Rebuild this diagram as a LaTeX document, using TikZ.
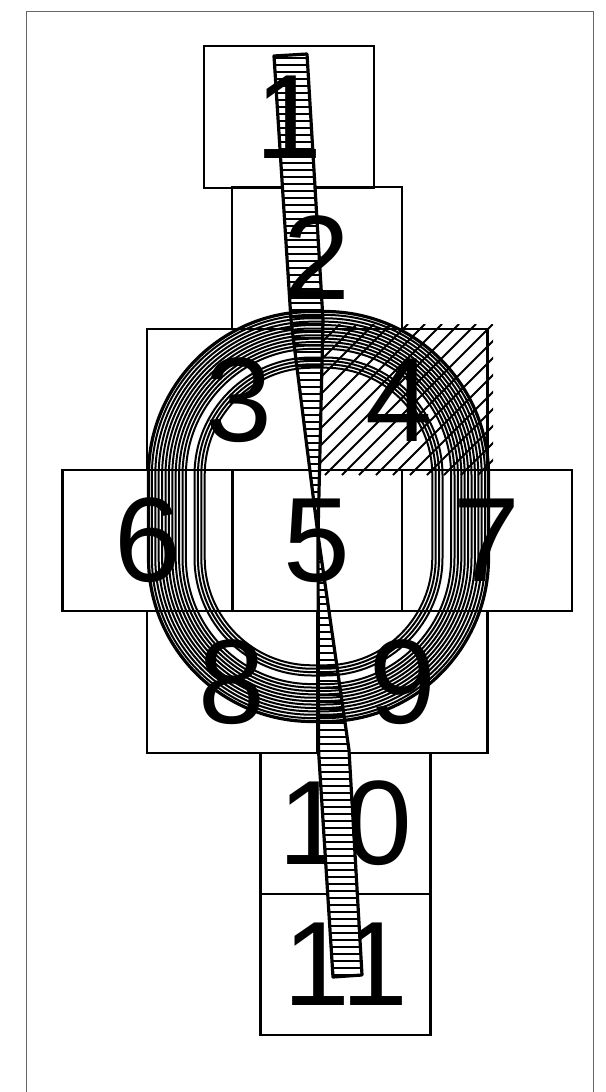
\documentclass[tikz,border=0pt]{standalone}
\usepackage{fontspec}
\setmainfont{Liberation Sans}
\begin{document}
\begin{tikzpicture}[x=1pt,y=-1pt,
  box/.style={draw=black,line width=2.3pt,minimum width=170pt,minimum height=141.5pt,inner sep=0pt,outer sep=0pt},
  digit/.style={inner sep=0pt,outer sep=0pt,anchor=center,font=\fontsize{120}{120}\selectfont},
  frameline/.style={draw=black!60,line width=1pt},
  hatchline/.style={line width=2pt},
  rung/.style={line width=1.8pt},
  ringline/.style={line width=2pt},
  ladderedge/.style={line width=3.2pt,line join=round}]
\useasboundingbox (0,0) rectangle (605,1092);
% frame
\coordinate (fbl) at (26,1092);
\coordinate (ftl) at (26,11);
\coordinate (ftr) at (593,11);
\coordinate (fbr) at (593,1092);
\draw[frameline] (fbl) -- (ftl) -- (ftr) -- (fbr);
% hatching of box 4
\begin{scope}
\clip (313,324) rectangle (493,475);
\foreach \c in {630,647,...,990}{
  \draw[hatchline] ({\c-475},475) -- ({\c-324},324);
}
\end{scope}
% boxes
\node[box] (b1) at (289,117) {};
\node[box] (b2) at (317,258) {};
\node[box] (b3) at (232,399.5) {};
\node[box] (b4) at (402.5,399.5) {};
\node[box] (b6) at (147.5,540.5) {};
\node[box] (b5) at (317,540.5) {};
\node[box] (b7) at (487,540.5) {};
\node[box] (b8) at (232,682) {};
\node[box] (b9) at (402.5,682) {};
\node[box] (b10) at (345.5,823.5) {};
\node[box] (b11) at (345.5,964.5) {};
% digits under the ladder
\node[digit] (n10) at (b10) {10};
\node[digit] (n11) at (b11) {11};
% ladder
\coordinate (la) at (274,56);
\coordinate (lb) at (307,54);
\coordinate (lc) at (323,320);
\coordinate (ld) at (318,535);
\coordinate (le) at (349,750);
\coordinate (lf) at (362,975);
\coordinate (lg) at (333,977);
\coordinate (lh) at (318.5,750);
\coordinate (li) at (291,320);
\fill[white] (la) -- (lb) -- (lc) -- (ld) -- (le) -- (lf) -- (lg) -- (lh) -- (ld) -- (li) -- cycle;
\begin{scope}
\clip (la) -- (lb) -- (lc) -- (ld) -- (le) -- (lf) -- (lg) -- (lh) -- (ld) -- (li) -- cycle;
\foreach \y in {58,65,...,980}{
  \draw[rung] (250,\y) -- (390,\y);
}
\end{scope}
\draw[ladderedge] (la) -- (lb) -- (lc) -- (ld) -- (le) -- (lf) -- (lg) -- (lh) -- (ld) -- (li) -- cycle;
% digits
\node[digit] (n1) at (b1) {1};
\node[digit] (n2) at (b2) {2};
\node[digit] (n3) at (239,400) {3};
\node[digit] (n4) at (399,400) {4};
\node[digit] (n6) at (b6) {6};
\node[digit] (n5) at (b5) {5};
\node[digit] (n7) at (b7) {7};
\node[digit] (n8) at (b8) {8};
\node[digit] (n9) at (b9) {9};
% ring
\draw[line width=3.2pt,rounded corners=163.5pt] (148.5,311.5) rectangle (488.5,721.5);
\foreach \d in {4.9,8.3,11.7,15.1,18.5,21.9,25.3,28.7,32.1,35.5,38.9,47.5,50.9,54.3,57.7}{
  \pgfmathsetmacro\rr{165-\d}
  \draw[ringline,rounded corners=\rr pt] ({147+\d},{310+\d}) rectangle ({490-\d},{723-\d});
}
\end{tikzpicture}
\end{document}
